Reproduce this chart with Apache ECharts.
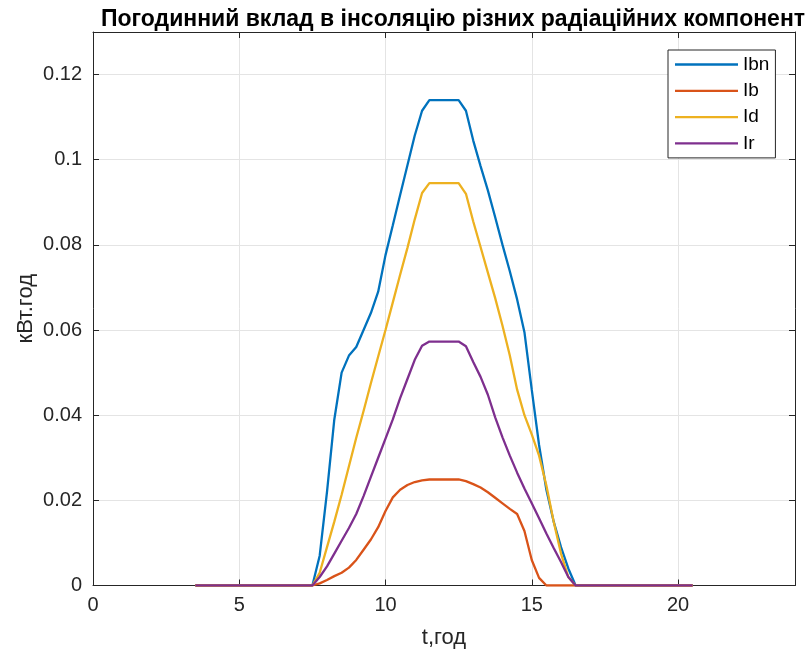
<!DOCTYPE html>
<html>
<head>
<meta charset="utf-8">
<script src="https://cdn.jsdelivr.net/npm/echarts@6/dist/echarts.min.js"></script>
<style>
html,body{margin:0;padding:0;background:#fff;}
#chart{width:812px;height:657px;}
</style>
</head>
<body>
<div id="chart"></div>
<script>
var titleText = 'Погодинний вклад в інсоляцію різних радіаційних компонент';
var xName = 't,год';
var yName = 'кВт.год';
var seriesNames = ['Ibn', 'Ib', 'Id', 'Ir'];
var seriesColors = ['#0072BD', '#D95319', '#EDB120', '#7E2F8E'];

var times = [3.5, 7.5, 7.75, 8, 8.25, 8.5, 8.75, 9, 9.25, 9.5, 9.75, 10, 10.25, 10.5, 10.75, 11, 11.25, 11.5, 11.75, 12, 12.25, 12.5, 12.75, 13, 13.25, 13.5, 13.75, 14, 14.25, 14.5, 14.75, 15, 15.25, 15.5, 15.75, 16, 16.25, 16.5, 20.5];

var Ibn = [0, 0, 0.007, 0.022, 0.039, 0.050, 0.054, 0.056, 0.060, 0.064, 0.069, 0.0776, 0.0846, 0.0917, 0.0987, 0.1057, 0.1115, 0.114, 0.114, 0.114, 0.114, 0.114, 0.1115, 0.1045, 0.0985, 0.0928, 0.0865, 0.080, 0.0738, 0.0672, 0.0595, 0.046, 0.033, 0.0225, 0.015, 0.009, 0.004, 0, 0];
var Ib  = [0, 0, 0.0005, 0.0013, 0.0022, 0.003, 0.0042, 0.006, 0.0084, 0.0108, 0.0137, 0.0175, 0.0207, 0.0225, 0.0236, 0.0243, 0.0247, 0.0249, 0.0249, 0.0249, 0.0249, 0.0249, 0.0245, 0.0238, 0.023, 0.0219, 0.0206, 0.0193, 0.018, 0.0168, 0.0128, 0.006, 0.0018, 0, 0, 0, 0, 0, 0];
var Id  = [0, 0, 0.003, 0.009, 0.015, 0.0213, 0.028, 0.0347, 0.041, 0.0475, 0.0538, 0.060, 0.0665, 0.073, 0.0793, 0.086, 0.0922, 0.0945, 0.0945, 0.0945, 0.0945, 0.0945, 0.092, 0.0855, 0.0795, 0.0735, 0.0675, 0.061, 0.054, 0.046, 0.040, 0.0355, 0.0305, 0.0235, 0.015, 0.0075, 0.002, 0, 0];
var Ir  = [0, 0, 0.002, 0.0045, 0.0075, 0.0105, 0.0135, 0.0168, 0.021, 0.0255, 0.030, 0.0345, 0.039, 0.044, 0.0485, 0.053, 0.0563, 0.0573, 0.0573, 0.0573, 0.0573, 0.0573, 0.0562, 0.0525, 0.049, 0.0448, 0.0395, 0.0348, 0.0305, 0.0265, 0.0228, 0.0193, 0.0158, 0.0122, 0.0088, 0.0055, 0.002, 0, 0];

var xTicks = {min: 0, max: 24, interval: 5};
var yTicks = {min: 0, max: 0.13, interval: 0.02};

var allValues = [Ibn, Ib, Id, Ir];
var FONT = "'Liberation Sans', Arial, sans-serif";
var AX = '#262626';

function pairs(vals) {
  return times.map(function (t, i) { return [t, vals[i]]; });
}

var chart = echarts.init(document.getElementById('chart'), null, {renderer: 'canvas'});

var series = seriesNames.map(function (n, i) {
  return {
    name: n,
    type: 'line',
    data: pairs(allValues[i]),
    xAxisIndex: 0,
    yAxisIndex: 0,
    symbol: 'none',
    showSymbol: false,
    smooth: false,
    lineStyle: {width: 2.3, color: seriesColors[i]},
    itemStyle: {color: seriesColors[i]},
    z: 2 + i
  };
});

var option = {
  animation: false,
  backgroundColor: '#fff',
  textStyle: {fontFamily: FONT},
  title: {
    text: titleText,
    left: 448,
    textAlign: 'center',
    top: 3,
    textStyle: {fontFamily: FONT, fontSize: 23, fontWeight: 'bold', color: '#000'}
  },
  legend: {
    data: seriesNames,
    orient: 'vertical',
    left: 668,
    top: 50,
    padding: [5, 6, 5, 7],
    icon: 'rect',
    itemWidth: 63,
    itemHeight: 2.3,
    itemGap: 7.3,
    backgroundColor: '#fff',
    borderColor: AX,
    borderWidth: 1,
    borderRadius: 0,
    textStyle: {fontFamily: FONT, fontSize: 19, color: '#000'}
  },
  grid: {left: 93, right: 17, top: 32, bottom: 71.5, containLabel: false},
  xAxis: [{
    type: 'value',
    min: xTicks.min, max: xTicks.max, interval: xTicks.interval,
    position: 'bottom',
    name: xName,
    nameLocation: 'middle',
    nameGap: 41,
    nameMoveOverlap: false,
    nameTextStyle: {fontFamily: FONT, fontSize: 22, color: AX},
    axisLine: {show: true, onZero: false, lineStyle: {color: AX, width: 1}},
    axisTick: {show: true, inside: true, length: 6, lineStyle: {color: AX}},
    axisLabel: {fontFamily: FONT, fontSize: 20, color: AX, margin: 10, showMaxLabel: false},
    splitLine: {show: true, lineStyle: {color: '#e4e4e4', width: 1}}
  }, {
    type: 'value',
    min: xTicks.min, max: xTicks.max, interval: xTicks.interval,
    position: 'top',
    axisLine: {show: true, onZero: false, lineStyle: {color: AX, width: 1}},
    axisTick: {show: true, inside: true, length: 6, lineStyle: {color: AX}},
    axisLabel: {show: false},
    splitLine: {show: false}
  }],
  yAxis: [{
    type: 'value',
    min: yTicks.min, max: yTicks.max, interval: yTicks.interval,
    position: 'left',
    name: yName,
    nameLocation: 'middle',
    nameGap: 56,
    nameMoveOverlap: false,
    nameRotate: 90,
    nameTextStyle: {fontFamily: FONT, fontSize: 22, color: AX},
    axisLine: {show: true, onZero: false, lineStyle: {color: AX, width: 1}},
    axisTick: {show: true, inside: true, length: 6, lineStyle: {color: AX}},
    axisLabel: {
      fontFamily: FONT, fontSize: 20, color: AX, margin: 11, showMaxLabel: false,
      formatter: function (v) { return v === 0 ? '0' : String(+v.toFixed(3)); }
    },
    splitLine: {show: true, lineStyle: {color: '#e4e4e4', width: 1}}
  }, {
    type: 'value',
    min: yTicks.min, max: yTicks.max, interval: yTicks.interval,
    position: 'right',
    axisLine: {show: true, onZero: false, lineStyle: {color: AX, width: 1}},
    axisTick: {show: true, inside: true, length: 6, lineStyle: {color: AX}},
    axisLabel: {show: false},
    splitLine: {show: false}
  }],
  series: series
};

chart.setOption(option);
</script>
</body>
</html>
